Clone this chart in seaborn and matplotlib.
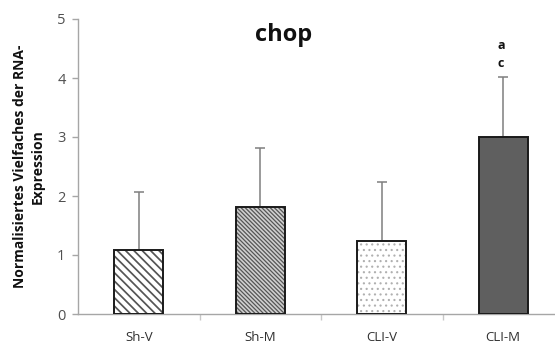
import numpy as np
import pandas as pd
import matplotlib
matplotlib.use("Agg")
import matplotlib.pyplot as plt
import seaborn as sns

groups = ["Sh-V", "Sh-M", "CLI-V", "CLI-M"]
means = [1.08, 1.82, 1.24, 3.00]
sd_upper = [0.99, 1.00, 0.99, 1.01]
letters = ["", "", "", "a\nc"]

# fill, hatch pattern, hatch colour, hatch line width per group
fills = ["white", "#cfcfcf", "white", "#5f5f5f"]
hatches = ["\\\\\\\\", "\\\\\\\\\\\\\\\\", "...", None]
hatch_colors = ["#555555", "#555555", "#b0b0b0", "#5f5f5f"]
hatch_widths = [1.25, 0.9, 0.8, 1.0]

sns.set_theme(style="white")
plt.rcParams["font.family"] = ["Open Sans", "DejaVu Sans"]

df = pd.DataFrame({"group": groups, "value": means})

fig = plt.figure(figsize=(5.55, 3.44), dpi=100)
ax = fig.add_axes([78 / 555, 30 / 344, 486 / 555, 295 / 344])

sns.barplot(data=df, x="group", y="value", order=groups, ax=ax,
            width=0.40, color="white", linewidth=0, errorbar=None)

for patch, fc, h, hc, hw in zip(ax.patches, fills, hatches, hatch_colors,
                                hatch_widths):
    patch.set_facecolor(fc)
    patch.set_edgecolor(hc)
    patch.set_linewidth(0)
    if h:
        patch.set_hatch(h)
        if hasattr(patch, "set_hatch_linewidth"):
            patch.set_hatch_linewidth(hw)
    patch.set_zorder(2)

x = np.arange(len(groups))
# black bar outlines on top of the patterned fills
ax.bar(x, means, width=0.40, fill=False, edgecolor="#1a1a1a",
       linewidth=1.4, zorder=3)

ax.errorbar(x, means, yerr=[np.zeros(len(groups)), sd_upper], fmt="none",
            ecolor="#7f7f7f", elinewidth=1.1, capsize=3.5, capthick=1.1,
            zorder=1)

for xi, m, s, lab in zip(x, means, sd_upper, letters):
    if lab:
        ax.text(xi - 0.02, m + s + 0.13, lab, ha="center", va="bottom",
                fontsize=9, fontweight="bold", linespacing=1.45,
                color="#111111")

ax.set_xlim(-0.5, 3.5)
ax.set_ylim(0, 5)
ax.set_yticks([0, 1, 2, 3, 4, 5])
ax.set_xlabel("")
ax.set_ylabel("Normalisiertes Vielfaches der RNA-\nExpression",
              fontsize=10, fontweight="bold", labelpad=9, linespacing=1.3,
              color="#111111")
fig.text(284 / 555, 1 - 41 / 344, "chop", ha="center", va="baseline",
         fontsize=17, fontweight="bold", color="#111111")

for side in ["top", "right"]:
    ax.spines[side].set_visible(False)
for side in ["left", "bottom"]:
    ax.spines[side].set_color("#a6a6a6")
    ax.spines[side].set_linewidth(1.0)

ax.tick_params(axis="y", which="both", left=True, length=4, width=1,
               color="#a6a6a6", labelsize=10.5, labelcolor="#505050", pad=5)
ax.tick_params(axis="x", which="major", bottom=False, labelsize=9.5,
               labelcolor="#303030", pad=6)
ax.set_xticks([0.5, 1.5, 2.5], minor=True)
ax.tick_params(axis="x", which="minor", bottom=True, length=4, width=1,
               color="#c8c8c8")

fig.savefig("out.png", dpi=100)
